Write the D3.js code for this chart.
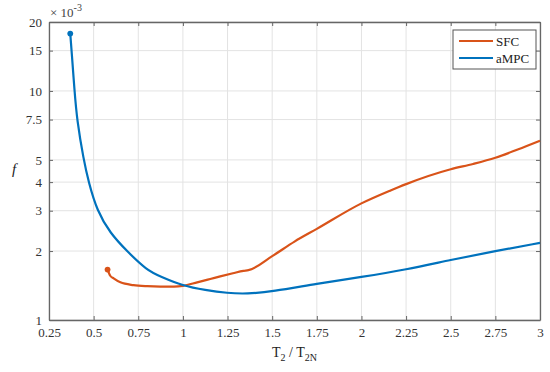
<!DOCTYPE html>
<html lang="en">
<head>
  <meta charset="UTF-8">
  <title>f vs T2/T2N</title>
  <script src="https://d3js.org/d3.v7.min.js"></script>
  <style>
    body {
      margin: 0;
      background: #fff;
    }

    svg {
      display: block;
      font-family: "Liberation Serif", serif;
    }

    .grid line {
      stroke: #e3e3e3;
      stroke-width: 1;
    }

    .tick text {
      font-size: 13px;
      fill: #333;
    }
  </style>
</head>
<body>
  <svg width="550" height="372"></svg>

  <script>
    // values in units of 1e-3
    const sfcX = [0.578, 0.593, 0.612, 0.65, 0.723, 0.8, 0.873, 0.95, 1.0, 1.08, 1.153, 1.209, 1.28, 1.339, 1.367, 1.5, 1.625, 1.75, 2.0, 2.16, 2.25, 2.5, 2.625, 2.75, 2.875, 3.0];
    const sfcY = [1.66, 1.56, 1.52, 1.46, 1.42, 1.405, 1.40, 1.40, 1.41, 1.46, 1.51, 1.55, 1.60, 1.64, 1.65, 1.90, 2.20, 2.50, 3.23, 3.67, 3.92, 4.55, 4.80, 5.11, 5.55, 6.06];

    const ampcX = [0.369, 0.3765, 0.393, 0.4065, 0.444, 0.472, 0.519, 0.593, 0.686, 0.798, 0.873, 1.0, 1.125, 1.25, 1.358, 1.5, 1.75, 2.0, 2.25, 2.5, 2.75, 3.0];
    const ampcY = [17.8, 15.0, 10.0, 7.5, 5.0, 4.0, 3.0, 2.39, 2.0, 1.65, 1.55, 1.41, 1.35, 1.31, 1.30, 1.33, 1.44, 1.54, 1.66, 1.83, 2.0, 2.17];

    const xTicks = [0.25, 0.5, 0.75, 1, 1.25, 1.5, 1.75, 2, 2.25, 2.5, 2.75, 3];
    const yTicks = [1, 2, 3, 4, 5, 7.5, 10, 15, 20];

    const seriesNames = ["SFC", "aMPC"];
    const seriesColors = ["#D95319", "#0072BD"];

    const margin = { top: 22, right: 10, bottom: 52, left: 49 };
    const width = 550;
    const height = 372;

    const svg = d3.select("svg");

    const x = d3.scaleLinear()
      .domain([0.25, 3])
      .range([margin.left, width - margin.right]);

    const y = d3.scaleLog()
      .domain([1, 20])
      .range([height - margin.bottom, margin.top]);

    // grid
    const grid = svg.append("g").attr("class", "grid");
    grid.selectAll(".gx")
      .data(xTicks)
      .join("line")
      .attr("x1", d => x(d))
      .attr("x2", d => x(d))
      .attr("y1", y(1))
      .attr("y2", y(20));
    grid.selectAll(".gy")
      .data(yTicks)
      .join("line")
      .attr("x1", x(0.25))
      .attr("x2", x(3))
      .attr("y1", d => y(d))
      .attr("y2", d => y(d));

    // axes (MATLAB style box, ticks inside)
    const axisColor = "#666";
    const fmt = d => String(d);

    const bottomAxis = svg.append("g")
      .attr("transform", `translate(0,${y(1)})`)
      .call(d3.axisBottom(x).tickValues(xTicks).tickFormat(fmt).tickSizeInner(-4).tickSizeOuter(0).tickPadding(8));

    const leftAxis = svg.append("g")
      .attr("transform", `translate(${x(0.25)},0)`)
      .call(d3.axisLeft(y).tickValues(yTicks).tickFormat(fmt).tickSizeInner(-4).tickSizeOuter(0).tickPadding(7));

    const topAxis = svg.append("g")
      .attr("transform", `translate(0,${y(20)})`)
      .call(d3.axisTop(x).tickValues(xTicks).tickFormat("").tickSizeInner(-4).tickSizeOuter(0));

    const rightAxis = svg.append("g")
      .attr("transform", `translate(${x(3)},0)`)
      .call(d3.axisRight(y).tickValues(yTicks).tickFormat("").tickSizeInner(-4).tickSizeOuter(0));

    [bottomAxis, leftAxis, topAxis, rightAxis].forEach(a => {
      a.select(".domain").attr("stroke", axisColor).attr("stroke-width", 1.3);
      a.selectAll(".tick line").attr("stroke", axisColor);
      a.selectAll(".tick text").attr("font-family", "Liberation Serif, serif");
    });

    // lines: SFC has a real knee, aMPC is smooth
    const curves = [d3.curveMonotoneX, d3.curveBasis];

    const sfc = sfcX.map((d, i) => [d, sfcY[i]]);
    const ampc = ampcX.map((d, i) => [d, ampcY[i]]);

    [sfc, ampc].forEach((data, i) => {
      const line = d3.line()
        .x(d => x(d[0]))
        .y(d => y(d[1]))
        .curve(curves[i]);

      svg.append("path")
        .datum(data)
        .attr("fill", "none")
        .attr("stroke", seriesColors[i])
        .attr("stroke-width", 2.2)
        .attr("stroke-linejoin", "round")
        .attr("d", line);

      svg.append("circle")
        .attr("cx", x(data[0][0]))
        .attr("cy", y(data[0][1]))
        .attr("r", 2.9)
        .attr("fill", seriesColors[i]);
    });

    // exponent label
    const expo = svg.append("text")
      .attr("x", 50)
      .attr("y", 17)
      .attr("font-size", 13)
      .attr("fill", "#444");
    expo.append("tspan").text("× 10");
    expo.append("tspan").attr("dy", -6).attr("font-size", 10).text("-3");

    // axis labels
    svg.append("text")
      .attr("x", 14)
      .attr("y", 174)
      .attr("text-anchor", "middle")
      .attr("font-size", 15)
      .attr("font-style", "italic")
      .attr("fill", "#222")
      .text("f");

    const xl = svg.append("text")
      .attr("x", x(1.625))
      .attr("y", 357)
      .attr("text-anchor", "middle")
      .attr("font-size", 14)
      .attr("fill", "#222");
    xl.append("tspan").text("T");
    xl.append("tspan").attr("dy", 4).attr("font-size", 10).text("2");
    xl.append("tspan").attr("dy", -4).text(" / T");
    xl.append("tspan").attr("dy", 4).attr("font-size", 10).text("2N");

    // legend
    const legend = svg.append("g").attr("transform", "translate(453,30)");
    legend.append("rect")
      .attr("width", 83)
      .attr("height", 39)
      .attr("fill", "#fff")
      .attr("stroke", "#555")
      .attr("stroke-width", 1);

    seriesNames.forEach((name, i) => {
      const yy = 11 + i * 17;
      legend.append("line")
        .attr("x1", 6)
        .attr("x2", 40)
        .attr("y1", yy)
        .attr("y2", yy)
        .attr("stroke", seriesColors[i])
        .attr("stroke-width", 2);
      legend.append("text")
        .attr("x", 43)
        .attr("y", yy + 4.5)
        .attr("font-size", 13)
        .attr("fill", "#222")
        .text(name);
    });
  </script>
</body>
</html>
